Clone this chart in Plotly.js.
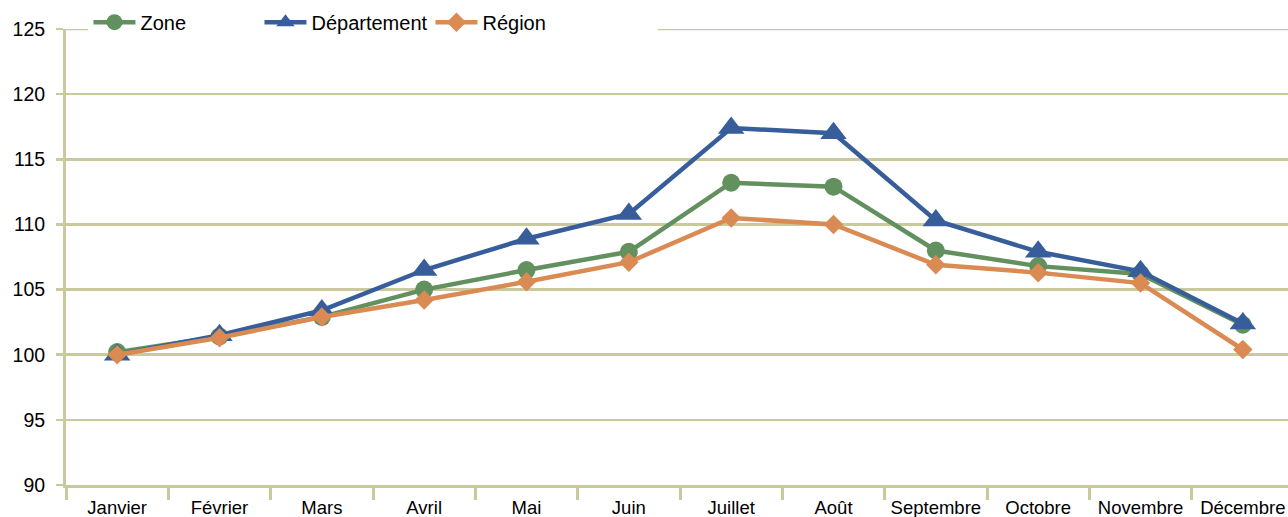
<!DOCTYPE html>
<html>
<head>
<meta charset="utf-8">
<script src="https://cdn.plot.ly/plotly-3.0.1.min.js"></script>
<style>
html,body{margin:0;padding:0;overflow:hidden;background:#fff;}
#chart{width:1294px;height:517px;}
</style>
</head>
<body>
<div id="chart"></div>
<script>
const months = ["Janvier","Février","Mars","Avril","Mai","Juin","Juillet","Août","Septembre","Octobre","Novembre","Décembre"];
const zone = [100.2,101.4,102.9,105.0,106.5,107.9,113.2,112.9,108.0,106.8,106.2,102.3];
const departement = [100.0,101.5,103.4,106.5,108.9,110.8,117.4,117.0,110.3,107.9,106.4,102.4];
const region = [100.0,101.3,102.9,104.2,105.6,107.1,110.5,110.0,106.9,106.3,105.5,100.4];
const yTicks = [90,95,100,105,110,115,120,125];

const font = "Liberation Sans, Arial, sans-serif";
const grid = "#C9C99B";
const yTop = yTicks[yTicks.length - 1];

const traces = [
  {name:"Zone", x:months, y:zone, type:"scatter", mode:"lines+markers",
   line:{color:"#62905F", width:4.5}, marker:{symbol:"circle", size:18, color:"#62905F"}},
  {name:"Département", x:months, y:departement, type:"scatter", mode:"lines+markers",
   line:{color:"#375E9A", width:4.5}, marker:{symbol:"triangle-up", size:23, color:"#375E9A"}},
  {name:"Région", x:months, y:region, type:"scatter", mode:"lines+markers",
   line:{color:"#D98B53", width:4.5}, marker:{symbol:"diamond", size:15, color:"#D98B53"}}
];

const layout = {
  width:1294, height:517,
  margin:{l:66, r:0, t:29, b:32},
  paper_bgcolor:"#fff", plot_bgcolor:"#fff",
  font:{family:font, size:18, color:"#000"},
  showlegend:true,
  legend:{orientation:"h", x:0.0183, xanchor:"left", y:1.015, yanchor:"middle",
          bgcolor:"#fff", font:{family:font, size:20, color:"#000"},
          itemwidth:42, entrywidth:114, entrywidthmode:"pixels", itemclick:false, tracegroupgap:0},
  shapes:[
    {type:"line", xref:"paper", yref:"y", x0:0, x1:1, y0:yTop, y1:yTop,
     line:{color:grid, width:2.5}, layer:"below"},
    {type:"rect", xref:"paper", yref:"paper", x0:0.03, x1:0.482, y0:0.99, y1:1.01,
     fillcolor:"#fff", line:{width:0}, layer:"above"}],
  xaxis:{type:"category", range:[-0.5,11.5], showgrid:false,
         showline:true, linecolor:grid, linewidth:3,
         ticks:"outside", tickson:"boundaries", ticklen:12, tickwidth:3, tickcolor:grid,
         ticklabelstandoff:4,
         tickfont:{family:font, size:18.5, color:"#000"}, fixedrange:true, zeroline:false},
  yaxis:{range:[90,125], tickvals:yTicks, showgrid:true, gridcolor:grid, gridwidth:2.5,
         showline:true, linecolor:grid, linewidth:3, zeroline:false,
         ticks:"outside", ticklen:7, tickwidth:2.5, tickcolor:grid,
         ticklabelstandoff:7,
         tickfont:{family:font, size:19.5, color:"#000"}, fixedrange:true}
};

Plotly.newPlot("chart", traces, layout, {displayModeBar:false, staticPlot:true});
</script>
</body>
</html>
